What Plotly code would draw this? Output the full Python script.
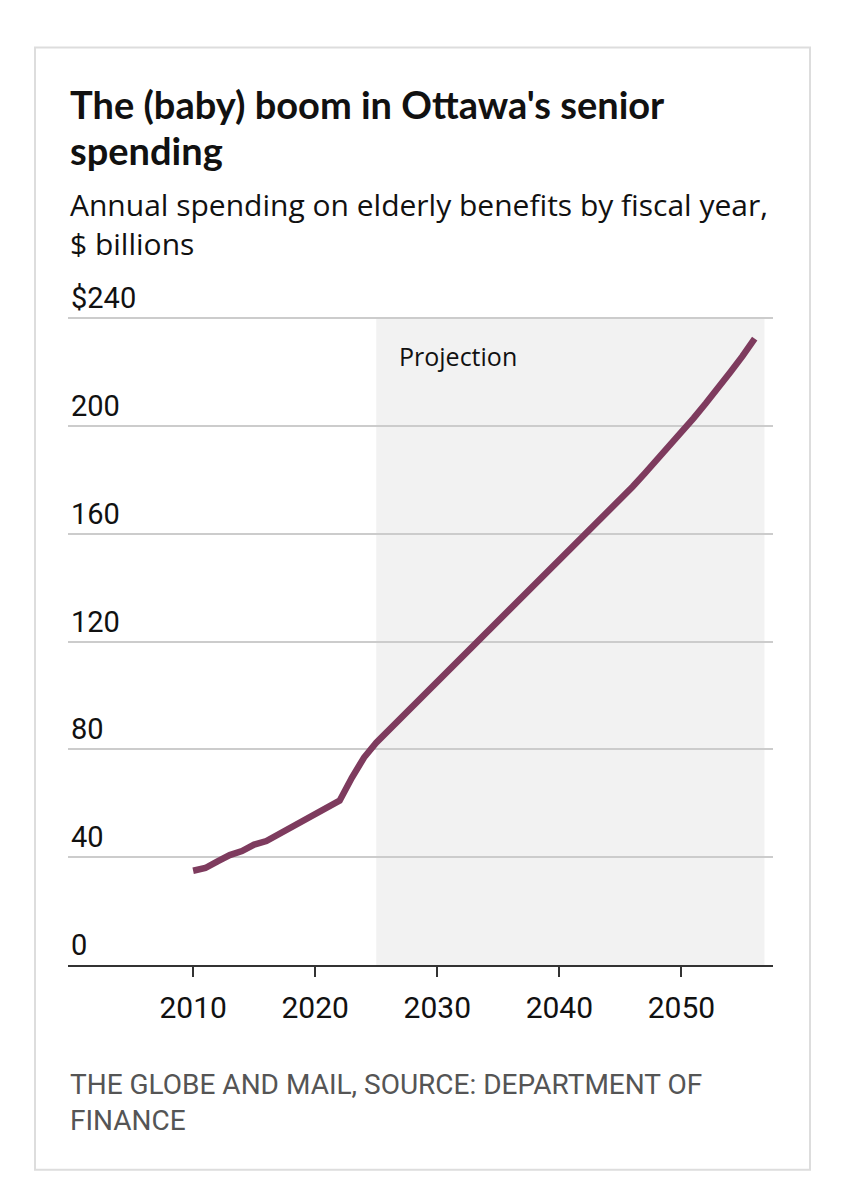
import plotly.graph_objects as go

# ---- data ----
years = list(range(2010, 2057))
spending = [35, 36, 38.5, 40.8, 42.3, 44.7, 46, 48.5, 51, 53.5,
            56, 58.5, 61, 69.5, 77, 82.5, 87, 91.5, 96, 100.5,
            105, 109.5, 114, 119, 123.5, 128, 132.5, 137, 141.5, 146,
            150.5, 155, 159.5, 164, 168.5, 173, 177.5, 182.5, 187.5, 192.5,
            197.5, 203, 208.5, 214, 220, 226, 232.5]
ytick_vals = [0, 40, 80, 120, 160, 200, 240]
ytick_text = ["0", "40", "80", "120", "160", "200", "$240"]
xtick_vals = [2010, 2020, 2030, 2040, 2050]
xtick_text = ["2010", "2020", "2030", "2040", "2050"]
projection_start = 2025
projection_end = 2056.8

title_lines = ["The (baby) boom in Ottawa's senior", "spending"]
subtitle_text = "Annual spending on elderly benefits by fiscal year,<br>$ billions"
source_text = "THE GLOBE AND MAIL, SOURCE: DEPARTMENT OF<br>FINANCE"

# ---- layout geometry (page pixels; page body has 8px margin) ----
OFF = 8
W, H = 845 - 2 * OFF, 1200 - 2 * OFF
L, R = 68 - OFF, 773 - OFF
B = 965 - OFF
Y240 = 318 - OFF
YMAX = 255
scale = (B - Y240) / 240.0
T = B - YMAX * scale


def px(x):
    return (x - OFF - L) / (R - L)


def py(y):
    return (B - (y - OFF)) / (B - T)


fig = go.Figure()
fig.add_trace(go.Scatter(
    x=years, y=spending, mode="lines",
    line=dict(color="#7e3b5e", width=6.5),
    hoverinfo="x+y", showlegend=False,
))

fig.add_shape(type="rect", xref="x", yref="y",
              x0=projection_start, x1=projection_end, y0=0, y1=240,
              fillcolor="#f2f2f2", line_width=0, layer="below")

# outer border
fig.add_shape(type="rect", xref="paper", yref="paper",
              x0=px(35), x1=px(810), y0=py(47), y1=py(1170),
              line=dict(color="#dddddd", width=2), fillcolor="rgba(0,0,0,0)",
              layer="below")

fig.add_annotation(x=2026.7, y=226, xref="x", yref="y", text="Projection",
                   showarrow=False, xanchor="left", yanchor="middle",
                   font=dict(family="Open Sans", size=25, color="#111111"))


def text_block(txt, x, y, size, family, color, weight="normal", anchor="middle"):
    fig.add_annotation(x=px(x), y=py(y), xref="paper", yref="paper",
                       text=txt, showarrow=False, xanchor="left", yanchor=anchor,
                       align="left",
                       font=dict(family=family, size=size, color=color, weight=weight))


for txt, y in zip(title_lines, [103, 149]):
    text_block(txt, 68, y, 38, "Lato", "#111111", "bold")
text_block(subtitle_text, 68, 182, 30, "Open Sans", "#111111", anchor="top")
text_block(source_text, 68, 1066, 28, "Roboto", "#555555", anchor="top")

fig.update_layout(
    width=W, height=H,
    margin=dict(l=L, r=W - R, t=T, b=H - B, pad=0),
    paper_bgcolor="white", plot_bgcolor="white",
    xaxis=dict(range=[1999.75, 2057.5], tickvals=xtick_vals, ticktext=xtick_text,
               showgrid=False, zeroline=False, showline=True, linecolor="#333333",
               linewidth=2, ticks="outside", ticklen=10, tickwidth=2,
               tickcolor="#333333", ticklabelstandoff=5,
               tickfont=dict(family="Roboto", size=30, color="#111111")),
    yaxis=dict(range=[0, YMAX], tickvals=ytick_vals, ticktext=ytick_text,
               showgrid=True, gridcolor="#cccccc", gridwidth=2, zeroline=False,
               showline=False, ticks="", ticklabelposition="inside top",
               tickfont=dict(family="Roboto", size=29, color="#111111")),
)

fig.write_html("out.html")
